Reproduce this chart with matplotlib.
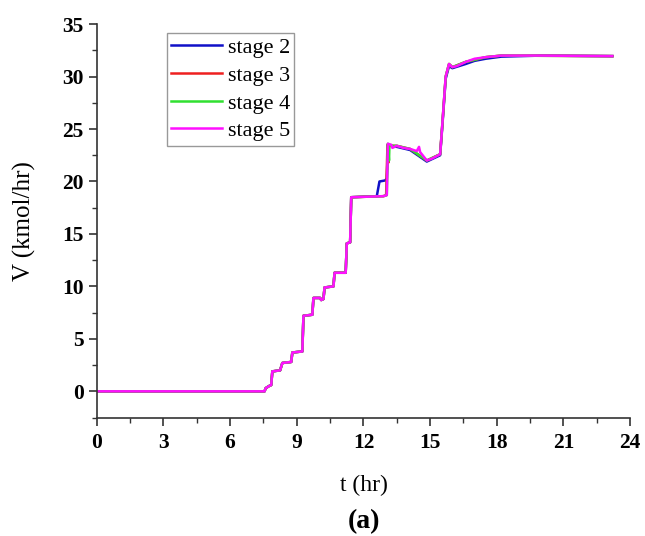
import matplotlib
matplotlib.use('Agg')
import matplotlib.pyplot as plt
from matplotlib.ticker import MultipleLocator

# stage 5 (magenta) - reference path
t5 = [0, 7.55, 7.6, 7.75, 7.85, 7.9, 8.25, 8.35, 8.75, 8.8, 9.25, 9.3, 9.7, 9.75, 10.05, 10.1,
      10.2, 10.25, 10.65, 10.7, 11.2, 11.25, 11.4, 11.45, 12.9, 13.05, 13.1, 13.25, 13.3, 13.5,
      13.8, 14.1, 14.4, 14.5, 14.55, 14.85, 15.1, 15.45, 15.55, 15.7, 15.85, 16.0, 16.2, 16.6,
      17.0, 17.5, 18.2, 20.0, 23.2]
v5 = [0, 0, 0.3, 0.5, 0.6, 1.9, 2.0, 2.7, 2.8, 3.7, 3.8, 7.2, 7.3, 8.9, 8.9, 8.7,
      8.8, 9.9, 10.0, 11.3, 11.3, 14.1, 14.2, 18.5, 18.6, 18.7, 23.6, 23.5, 23.2, 23.4,
      23.2, 23.1, 22.9, 23.3, 22.8, 22.0, 22.2, 22.6, 25.5, 30.0, 31.2, 30.9, 31.0, 31.4,
      31.7, 31.85, 32.0, 32.0, 31.95]

# stage 4 (green) - small glitch at ~13.1 hr
t4 = [0, 7.55, 7.6, 7.75, 7.85, 7.9, 8.25, 8.35, 8.75, 8.8, 9.25, 9.3, 9.7, 9.75, 10.05, 10.1,
      10.2, 10.25, 10.65, 10.7, 11.2, 11.25, 11.4, 11.45, 12.9, 13.05, 13.1, 13.15, 13.17, 13.25,
      13.5, 14.1, 14.85, 15.45, 15.55, 15.7, 15.85, 16.0, 16.6, 17.5, 18.2, 23.2]
v4 = [0, 0, 0.3, 0.5, 0.6, 1.9, 2.0, 2.7, 2.8, 3.7, 3.8, 7.2, 7.3, 8.9, 8.9, 8.7,
      8.8, 9.9, 10.0, 11.3, 11.3, 14.1, 14.2, 18.5, 18.6, 18.7, 23.6, 22.0, 23.5, 23.4,
      23.4, 23.1, 22.0, 22.6, 25.5, 30.0, 31.2, 30.9, 31.4, 31.85, 32.0, 31.95]

# stage 3 (red)
t3 = [0, 7.55, 7.6, 7.75, 7.85, 7.9, 8.25, 8.35, 8.75, 8.8, 9.25, 9.3, 9.7, 9.75, 10.05, 10.1,
      10.2, 10.25, 10.65, 10.7, 11.2, 11.25, 11.4, 11.45, 12.9, 13.02, 13.08, 13.12, 13.14, 13.25,
      13.5, 14.1, 14.85, 15.45, 15.55, 15.7, 15.85, 16.0, 16.6, 17.5, 18.2, 23.2]
v3 = [0, 0, 0.3, 0.5, 0.6, 1.9, 2.0, 2.7, 2.8, 3.7, 3.8, 7.2, 7.3, 8.9, 8.9, 8.7,
      8.8, 9.9, 10.0, 11.3, 11.3, 14.1, 14.2, 18.5, 18.6, 18.7, 23.5, 21.8, 23.4, 23.4,
      23.4, 23.1, 22.0, 22.6, 25.5, 30.0, 31.2, 30.9, 31.4, 31.85, 32.0, 31.95]

# stage 2 (blue) - earlier step to 20 and slightly slower final rise
t2 = [0, 7.55, 7.6, 7.75, 7.85, 7.9, 8.25, 8.35, 8.75, 8.8, 9.25, 9.3, 9.7, 9.75, 10.05, 10.1,
      10.2, 10.25, 10.65, 10.7, 11.2, 11.25, 11.4, 11.45, 12.6, 12.72, 12.98, 13.05, 13.1, 13.25,
      13.5, 14.1, 14.85, 15.45, 15.55, 15.7, 15.85, 16.0, 16.6, 17.0, 17.5, 18.2, 20.0, 23.2]
v2 = [0, 0, 0.3, 0.5, 0.6, 1.9, 2.0, 2.7, 2.8, 3.7, 3.8, 7.2, 7.3, 8.9, 8.9, 8.7,
      8.8, 9.9, 10.0, 11.3, 11.3, 14.1, 14.2, 18.5, 18.6, 20.0, 20.1, 20.3, 23.4, 23.4,
      23.3, 23.0, 21.9, 22.5, 25.3, 29.8, 31.0, 30.8, 31.2, 31.5, 31.7, 31.9, 32.0, 31.95]

labels = ['stage 2', 'stage 3', 'stage 4', 'stage 5']
colors = ['#1010c8', '#ee2020', '#30e030', '#ff10ff']

plt.rcParams['font.family'] = 'Liberation Serif'

fig = plt.figure(figsize=(6.45, 5.36), dpi=100)
ax = fig.add_axes([0.150, 0.221, 0.827, 0.734])

for t, v, lab, c in zip([t2, t3, t4, t5], [v2, v3, v4, v5], labels, colors):
    ax.plot(t, v, color=c, lw=1.8, label=lab)

ax.set_xlim(0, 24)
ax.set_ylim(-2.5, 35)
ax.xaxis.set_major_locator(MultipleLocator(3))
ax.xaxis.set_minor_locator(MultipleLocator(1.5))
ax.yaxis.set_major_locator(MultipleLocator(5))
ax.yaxis.set_minor_locator(MultipleLocator(2.5))
ax.spines['top'].set_visible(False)
ax.spines['right'].set_visible(False)
for s in ['left', 'bottom']:
    ax.spines[s].set_color('#333333')
    ax.spines[s].set_linewidth(1.2)
ax.tick_params(which='major', length=6, width=1.2, color='#333333', labelsize=15.5)
ax.tick_params(which='minor', length=3.5, width=1.0, color='#333333')
ax.tick_params(axis='x', which='major', pad=5)
for lbl in ax.get_xticklabels() + ax.get_yticklabels():
    lbl.set_fontweight('bold')

ax.set_xlabel('t (hr)', fontsize=17, labelpad=16)
ax.set_ylabel('V (kmol/hr)', fontsize=18, labelpad=19)

leg = ax.legend(loc='upper left', bbox_to_anchor=(0.131, 0.977), borderaxespad=0,
                fontsize=16, handlelength=2.3, labelspacing=0.32, handletextpad=0.25,
                borderpad=0.2, fancybox=False, framealpha=1)
leg.get_frame().set_edgecolor('#999999')
leg.get_frame().set_linewidth(1.0)

fig.text(0.564, 0.026, '(a)', fontsize=20, fontweight='bold', ha='center', va='center')

fig.savefig('out.png', dpi=100)
